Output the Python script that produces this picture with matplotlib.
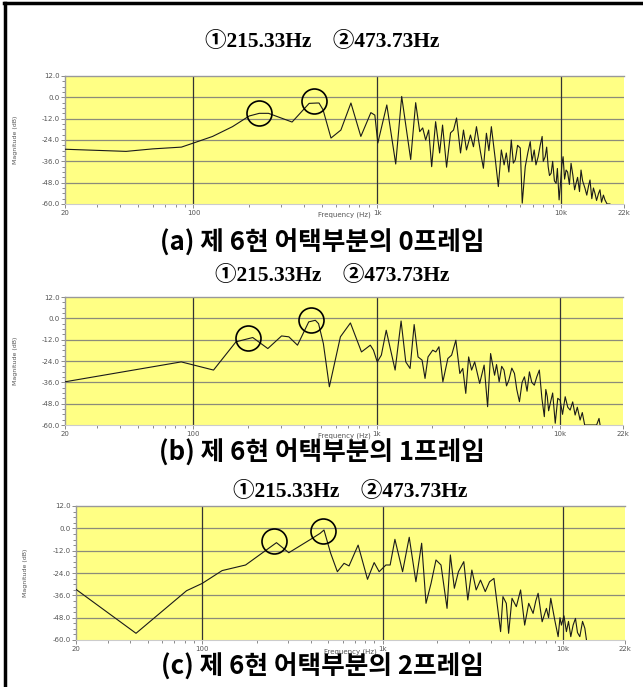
import matplotlib
matplotlib.use("Agg")

import matplotlib.pyplot as plt
from matplotlib.lines import Line2D
from matplotlib.ticker import FixedLocator, NullFormatter

# ---- data (frequency in Hz, magnitude in dB) ----
freq_a = [20, 43, 60, 86, 100, 127, 163, 201, 228, 256, 344, 426, 470, 482,
          507, 560, 634, 719, 814, 923, 970, 1007, 1127, 1260, 1358, 1520,
          1618, 1702, 1767, 1834, 1904, 1977, 2077, 2184, 2266, 2383, 2504,
          2600, 2700, 2838, 2945, 3058, 3214, 3337, 3465, 3641, 3780, 3925,
          4050, 4176, 4390, 4557, 4732, 4900, 5036, 5200, 5360, 5500, 5634,
          5800, 5998, 6149, 6385, 6600, 6797, 6950, 7142, 7300, 7506, 7700,
          7890, 8000, 8196, 8350, 8508, 8650, 8832, 9000, 9200, 9400, 9550,
          9757, 9900, 10100, 10257, 10450, 10650, 10850, 11100, 11333, 11600,
          11850, 12064, 12300, 12600, 12841, 13100, 13498, 13800, 14100,
          14370, 14700, 15000, 15294, 15600, 16000, 16282, 16600, 17000,
          17328, 17800, 18443]
db_a = [-29.2, -30.4, -29.0, -28.0, -25.7, -22.0, -16.5, -10.5, -9.0, -9.0,
        -13.9, -3.4, -3.2, -3.2, -7.0, -22.9, -18.4, -3.2, -22.0, -8.6, -10.0,
        -25.7, -4.3, -37.5, 0.5, -35.0, -3.0, -19.3, -17.2, -24.0, -18.4,
        -39.0, -13.7, -31.3, -15.6, -39.3, -20.0, -18.4, -11.6, -31.3, -18.4,
        -29.6, -21.2, -27.8, -16.5, -30.6, -39.9, -20.2, -30.0, -16.5, -35.2,
        -50.2, -29.6, -38.0, -31.3, -42.0, -24.0, -37.0, -35.2, -27.0, -28.5,
        -59.5, -39.0, -31.0, -24.9, -36.0, -29.6, -38.0, -33.4, -27.0, -22.0,
        -36.0, -33.4, -28.0, -39.0, -44.0, -42.7, -36.0, -47.0, -48.4, -40.0,
        -57.7, -50.0, -38.0, -33.4, -46.0, -40.9, -42.0, -49.0, -37.1, -44.0,
        -52.0, -48.4, -45.0, -53.0, -40.9, -47.0, -51.2, -55.0, -50.0, -46.5,
        -57.0, -51.0, -54.0, -58.0, -54.0, -52.0, -59.0, -55.0, -57.7, -60.0,
        -60.0]

freq_b = [20, 86, 129, 171, 211, 255, 303, 332, 370, 426, 463, 482, 512, 552,
          634, 719, 826, 923, 960, 1007, 1060, 1127, 1180, 1260, 1358, 1440,
          1520, 1600, 1680, 1767, 1834, 1904, 2020, 2100, 2184, 2294, 2442,
          2560, 2700, 2838, 2945, 3058, 3170, 3290, 3420, 3641, 3850, 4022,
          4176, 4390, 4500, 4650, 4800, 4940, 5100, 5250, 5450, 5634, 5800,
          5998, 6200, 6385, 6600, 6797, 7000, 7230, 7450, 7700, 7950, 8196,
          8350, 8508, 8650, 8832, 9100, 9400, 9700, 9990, 10300, 10650, 11000,
          11333, 11700, 12064, 12400, 12841, 13200, 13600, 14500, 15800,
          16282, 16500]
db_b = [-35.7, -24.5, -29.1, -13.2, -10.8, -17.0, -9.9, -10.4, -15.1, -2.0,
        -1.1, -3.0, -14.2, -38.5, -10.4, -2.6, -18.9, -15.1, -17.9, -24.5,
        -20.7, -6.7, -16.0, -29.1, -1.5, -24.5, -28.2, -3.5, -21.7, -23.5,
        -33.8, -21.7, -17.9, -18.9, -16.0, -35.7, -22.6, -20.7, -12.3, -31.0,
        -28.2, -42.2, -21.7, -29.1, -24.5, -36.6, -26.3, -49.7, -19.8, -32.0,
        -26.0, -35.7, -27.0, -29.1, -38.0, -34.8, -28.0, -31.0, -40.0, -46.9,
        -36.0, -32.9, -41.0, -30.1, -36.0, -37.6, -33.0, -29.1, -45.0, -55.3,
        -40.0, -44.1, -52.0, -47.8, -42.0, -59.0, -45.0, -46.0, -54.0, -44.1,
        -50.0, -51.6, -47.0, -54.4, -50.0, -57.2, -53.0, -60.0, -60.0, -60.0,
        -56.3, -60.0]

freq_c = [20, 43, 82, 100, 129, 174, 258, 302, 399, 450, 473, 515, 561, 611,
          651, 731, 824, 897, 956, 1042, 1100, 1169, 1289, 1403, 1528, 1644,
          1738, 1853, 1974, 2104, 2273, 2371, 2495, 2628, 2814, 2962, 3119,
          3296, 3483, 3700, 3909, 4134, 4349, 4500, 4637, 4840, 4985, 5205,
          5500, 5808, 6118, 6442, 6812, 7050, 7263, 7645, 8075, 8300, 8535,
          8981, 9376, 9600, 9777, 10100, 10420, 10700, 11016, 11350, 11694,
          12000, 12364, 12800, 13180, 13458]
db_c = [-32.8, -56.4, -33.5, -29.6, -22.7, -19.7, -7.7, -13.1, -5.9, -2.7,
        -0.9, -13.4, -23.3, -18.8, -20.2, -9.0, -27.4, -18.4, -23.3, -19.7,
        -19.7, -5.9, -23.3, -4.8, -28.7, -8.0, -40.3, -29.6, -17.0, -19.7,
        -43.0, -14.3, -32.2, -23.3, -17.9, -38.5, -22.4, -33.1, -27.8, -34.0,
        -28.7, -26.9, -43.9, -55.5, -36.7, -40.3, -56.4, -37.6, -42.1, -33.1,
        -52.0, -40.3, -45.7, -39.0, -34.9, -50.2, -43.0, -48.0, -37.6, -49.3,
        -58.2, -48.0, -52.0, -47.0, -55.5, -50.0, -58.2, -52.0, -48.4, -56.0,
        -58.2, -50.0, -53.7, -60.0]

# peaks marked with circles
circle_f = {"a": [228, 453], "b": [200, 440], "c": [250, 465]}
circle_db = {"a": [-9.0, -1.9], "b": [-10.8, -1.1], "c": [-6.6, -1.4]}

peak_title = "\u2460215.33Hz    \u2461473.73Hz"
captions = ["(a) 제 6현 어택부분의 0프레임",
            "(b) 제 6현 어택부분의 1프레임",
            "(c) 제 6현 어택부분의 2프레임"]

x_ticks = [20, 100, 1000, 10000, 22000]
x_ticklabels = ["20", "100", "1k", "10k", "22k"]
y_ticks = [12, 0, -12, -24, -36, -48, -60]

W, H = 643, 687
YELLOW = "#FFFF84"
TICK_COL = "#777777"


def px_axes(fig, left, right, top, bottom):
    return fig.add_axes([left / W, 1 - bottom / H, (right - left) / W,
                         (bottom - top) / H])


def draw_panel(ax, freqs, dbs, cf, cdb, ylabel_x):
    ax.set_facecolor(YELLOW)
    ax.set_xscale("log")
    ax.set_xlim(20, 22000)
    ax.set_ylim(-60, 12)
    for y in y_ticks[1:-1]:
        ax.axhline(y, color="#8c8c7a", lw=0.9, zorder=1)
    for x in (100, 1000, 10000):
        ax.axvline(x, color="#333333", lw=0.9, zorder=1)
    ax.plot(freqs, dbs, color="#1a1a1a", lw=0.8, zorder=3)
    ax.plot(cf, cdb, "o", ms=18, mfc="none", mec="black", mew=1.2,
            zorder=4, clip_on=False)

    ax.xaxis.set_major_locator(FixedLocator(x_ticks))
    ax.set_xticklabels(x_ticklabels)
    minors = [m * d for d in (10, 100, 1000) for m in range(2, 10)
              if 20 < m * d < 22000 and m * d not in x_ticks]
    ax.xaxis.set_minor_locator(FixedLocator(minors))
    ax.xaxis.set_minor_formatter(NullFormatter())
    ax.set_yticks(y_ticks)
    ax.set_yticklabels([f"{v:.1f}" for v in y_ticks])
    ax.yaxis.set_minor_locator(FixedLocator(
        [v for v in range(-60, 13, 3) if v % 12]))

    ax.tick_params(axis="both", which="major", labelsize=5,
                   labelcolor="#555555", color=TICK_COL, length=3, width=0.6,
                   pad=1)
    ax.tick_params(axis="both", which="minor", color=TICK_COL, length=2,
                   width=0.6)
    for side in ("top", "left"):
        ax.spines[side].set_color("#999999")
        ax.spines[side].set_linewidth(1.0)
    ax.spines["bottom"].set_color("#cccccc")
    ax.spines["right"].set_visible(False)

    ax.text(0.5, -0.085, "Frequency (Hz)", transform=ax.transAxes,
            ha="center", va="center", fontsize=5, color="#555555")
    ax.text(ylabel_x, 0.5, "Magnitude (dB)", transform=ax.transAxes,
            ha="center", va="center", rotation=90, fontsize=4.5,
            color="#555555")


fig = plt.figure(figsize=(W / 100, H / 100), dpi=100)

# left, right, top, bottom (px), data, key, title y, title x, caption y, ylabel x
panels = [
    (65, 624, 76, 204, freq_a, db_a, "a", 42, 322, 243, 15),
    (65, 623, 297, 425, freq_b, db_b, "b", 276, 332, 453, 15),
    (76, 625, 506, 640, freq_c, db_c, "c", 492, 350, 667, 26),
]
for i, (l, r, t, b, f, d, key, ty, tx, cy, yl) in enumerate(panels):
    ax = px_axes(fig, l, r, t, b)
    draw_panel(ax, f, d, circle_f[key], circle_db[key], (yl - l) / (r - l))
    fig.text(tx / W, 1 - ty / H, peak_title, ha="center", va="center",
             fontsize=15.5, weight="bold",
             family=["Liberation Serif", "Noto Sans CJK KR"])
    fig.text(322 / W, 1 - cy / H, captions[i], ha="center", va="center",
             fontsize=18.5, family=["Noto Sans CJK KR", "DejaVu Sans"],
             weight="bold")

# outer frame (top and left edges only)
fig.add_artist(Line2D([4 / W, 1], [1 - 3 / H, 1 - 3 / H], color="black",
                      lw=2.5, transform=fig.transFigure))
fig.add_artist(Line2D([5 / W, 5 / W], [0, 1 - 3 / H], color="black",
                      lw=2.5, transform=fig.transFigure))

fig.savefig("out.png", dpi=100)
